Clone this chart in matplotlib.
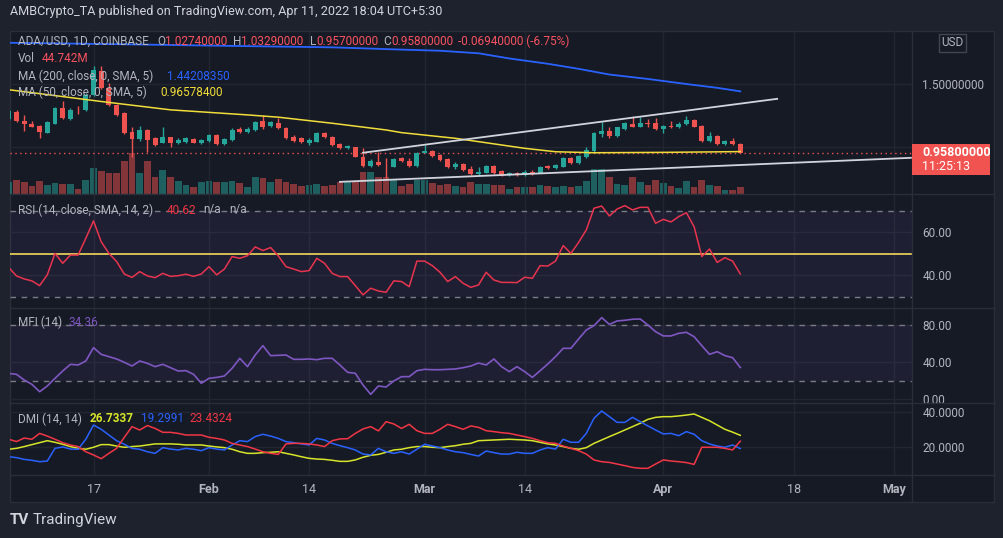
import matplotlib
matplotlib.use('Agg')
import matplotlib.pyplot as plt
import matplotlib.dates as mdates
from matplotlib.lines import Line2D
from matplotlib.patches import Rectangle
from matplotlib.transforms import Bbox
import pandas as pd

plt.rcParams['font.family'] = ['Roboto', 'DejaVu Sans']

# ---------------- data ----------------
dates = pd.date_range('2022-01-06', '2022-04-11', freq='D')

opens = [1.225, 1.278, 1.209, 1.185, 1.169, 1.116, 1.188, 1.309, 1.225, 1.298,
         1.291, 1.415, 1.601, 1.468, 1.336, 1.270, 1.124, 1.063, 1.137, 1.071,
         1.037, 1.079, 1.037, 1.045, 1.063, 1.031,
         1.053, 1.098, 1.026, 1.058, 1.148, 1.124, 1.137, 1.204, 1.169, 1.190,
         1.153, 1.084, 1.071, 1.031, 1.045, 1.111, 1.084, 1.026, 0.992, 1.000,
         0.926, 0.852, 0.886, 0.861, 0.846, 0.912, 0.894, 0.852,
         0.957, 0.971, 0.939, 0.904, 0.841, 0.867, 0.825, 0.788, 0.798, 0.852,
         0.812, 0.780, 0.798, 0.780, 0.804, 0.798, 0.852, 0.833, 0.846, 0.912,
         0.873, 0.920, 0.973, 1.106, 1.132, 1.090, 1.143, 1.185, 1.164, 1.191,
         1.190,
         1.143, 1.169, 1.159, 1.185, 1.217, 1.169, 1.053, 1.090, 1.023, 1.050, 1.0274]
highs = [1.296, 1.296, 1.256, 1.209, 1.177, 1.204, 1.317, 1.368, 1.309, 1.323,
         1.428, 1.640, 1.640, 1.508, 1.344, 1.275, 1.164, 1.169, 1.143, 1.079,
         1.164, 1.084, 1.071, 1.084, 1.071, 1.066,
         1.103, 1.106, 1.071, 1.151, 1.164, 1.159, 1.211, 1.256, 1.204, 1.230,
         1.159, 1.095, 1.079, 1.071, 1.124, 1.121, 1.090, 1.031, 1.018, 1.005,
         0.992, 0.904, 0.965, 0.912, 0.912, 0.926, 0.912, 0.965,
         1.018, 0.979, 0.947, 0.912, 0.886, 0.873, 0.852, 0.846, 0.859, 0.859,
         0.820, 0.806, 0.806, 0.820, 0.820, 0.852, 0.859, 0.867, 0.920, 0.920,
         0.939, 1.000, 1.124, 1.196, 1.164, 1.164, 1.198, 1.248, 1.238, 1.222,
         1.230,
         1.177, 1.204, 1.196, 1.248, 1.222, 1.177, 1.124, 1.095, 1.055, 1.074, 1.0329]
lows = [1.217, 1.196, 1.132, 1.159, 1.076, 1.111, 1.182, 1.222, 1.217, 1.262,
        1.283, 1.402, 1.460, 1.328, 1.248, 1.106, 0.926, 1.053, 0.965, 1.010,
        1.031, 1.005, 1.023, 1.037, 1.031, 1.023,
        1.045, 1.018, 1.018, 1.053, 1.116, 1.111, 1.132, 1.143, 1.159, 1.143,
        1.063, 1.042, 1.031, 1.018, 1.039, 1.071, 1.010, 0.984, 0.984, 0.920,
        0.846, 0.841, 0.852, 0.754, 0.841, 0.886, 0.841, 0.846,
        0.952, 0.926, 0.894, 0.833, 0.825, 0.815, 0.780, 0.780, 0.793, 0.788,
        0.772, 0.775, 0.772, 0.775, 0.785, 0.793, 0.825, 0.825, 0.841, 0.867,
        0.867, 0.912, 0.965, 1.084, 1.071, 1.084, 1.137, 1.159, 1.159, 1.164,
        1.137,
        1.111, 1.151, 1.151, 1.177, 1.159, 1.045, 1.045, 1.018, 1.018, 1.018, 0.957]
closes = [1.283, 1.204, 1.182, 1.164, 1.124, 1.196, 1.309, 1.230, 1.296, 1.294,
          1.415, 1.614, 1.468, 1.336, 1.256, 1.111, 1.063, 1.137, 1.058, 1.018,
          1.084, 1.037, 1.058, 1.071, 1.037, 1.058,
          1.095, 1.023, 1.063, 1.137, 1.124, 1.148, 1.201, 1.164, 1.196, 1.151,
          1.071, 1.050, 1.039, 1.058, 1.116, 1.079, 1.018, 0.992, 1.010, 0.926,
          0.852, 0.891, 0.859, 0.857, 0.904, 0.894, 0.852, 0.957,
          0.971, 0.931, 0.899, 0.841, 0.867, 0.820, 0.788, 0.806, 0.852, 0.798,
          0.780, 0.798, 0.780, 0.806, 0.799, 0.846, 0.833, 0.859, 0.912, 0.873,
          0.931, 0.979, 1.116, 1.132, 1.090, 1.159, 1.190, 1.164, 1.190, 1.188,
          1.143,
          1.169, 1.159, 1.185, 1.217, 1.164, 1.053, 1.090, 1.023, 1.050, 1.027, 0.958]
volume_m = [83, 96, 83, 56, 90, 63, 76, 69, 69, 36, 96, 177, 157, 143, 143, 224,
            276, 139, 220, 112, 161, 112, 90, 60, 49, 78,
            90, 83, 78, 90, 72, 49, 112, 105, 78, 101, 78, 67, 56, 63, 67, 56,
            63, 78, 78, 78, 146, 150, 112, 112, 94, 56, 67, 96,
            96, 74, 63, 67, 56, 45, 83, 67, 67, 63, 63, 36, 45, 49, 49, 63, 56,
            45, 56, 45, 56, 85, 170, 166, 116, 67, 63, 116, 83, 63, 96,
            74, 56, 38, 90, 45, 96, 63, 56, 29, 29, 44.742]

rsi = [43.6, 39.7, 38.3, 37.4, 35.2, 40.2, 50.2, 45.6, 49.4, 49.4, 57.2, 65.3,
       55.6, 50.2, 46.4, 40.6, 39.0, 41.7, 39.7, 38.9, 40.9, 39.5, 39.8, 40.5,
       39.5, 40.6, 44.0, 40.2, 42.9, 48.7, 47.9, 49.1, 53.2, 51.5, 52.9, 49.0,
       44.0, 42.9, 41.7, 42.2, 47.9, 45.6, 40.9, 39.4, 39.4, 35.2, 30.9, 34.0,
       32.7, 32.1, 37.4, 37.1, 34.7, 46.6, 46.6, 44.5, 41.4, 37.1, 39.4, 36.3,
       34.4, 35.5, 41.4, 37.8, 36.7, 36.7, 36.6, 39.1, 38.6, 44.5, 44.3, 46.6,
       53.8, 50.2, 55.3, 61.1, 71.2, 72.2, 67.6, 70.8, 72.4, 70.4, 71.6, 71.6,
       64.2, 66.0, 64.8, 67.3, 69.1, 62.6, 48.7, 52.2, 46.0, 48.2, 46.6, 40.62]

mfi = [28.0, 27.0, 20.9, 16.2, 8.2, 14.4, 22.7, 30.6, 37.8, 37.1, 41.4, 55.8,
       48.6, 46.1, 43.6, 40.0, 36.0, 41.4, 38.9, 35.3, 37.8, 34.2, 30.6, 31.0,
       27.0, 17.3, 22.7, 23.7, 25.2, 33.5, 44.3, 35.3, 47.9, 58.0, 47.2, 47.5,
       47.9, 43.2, 43.2, 43.6, 42.8, 44.3, 44.3, 37.1, 29.2, 28.1, 15.5, 5.4,
       14.4, 13.3, 19.8, 24.5, 24.5, 30.9, 32.4, 32.0, 32.0, 32.4, 32.8, 34.2,
       36.0, 39.2, 37.1, 43.6, 35.3, 29.9, 35.3, 29.9, 23.7, 30.9, 38.2, 46.1,
       55.1, 55.1, 65.2, 74.9, 79.6, 88.3, 81.0, 84.7, 85.4, 86.5, 86.8, 80.3,
       73.1, 68.5, 68.5, 71.3, 72.4, 67.7, 58.0, 48.6, 51.5, 47.2, 45.0, 34.36]

adx = [18.9, 19.4, 20.4, 21.5, 22.6, 23.7, 22.8, 21.7, 20.4, 19.4, 18.9, 20.0,
       21.5, 21.5, 20.7, 20.0, 20.4, 20.7, 21.3, 21.9, 21.9, 21.9, 21.7, 21.3,
       21.3, 21.3, 20.7, 20.2, 19.8, 18.9, 17.5, 16.6, 16.6, 17.0, 17.2, 17.5,
       16.6, 15.7, 14.7, 13.8, 13.4, 13.2, 12.7, 12.1, 12.1, 12.9, 14.4, 15.5,
       16.0, 17.2, 18.5, 18.9, 19.8, 20.4, 20.4, 20.0, 19.8, 20.4, 20.9, 21.7,
       22.2, 23.7, 23.9, 24.1, 24.3, 24.5, 24.3, 24.1, 23.7, 22.8, 21.9, 21.3,
       20.4, 19.4, 18.9, 19.8, 22.2, 24.1, 26.0, 27.8, 29.7, 31.6, 33.5, 35.7,
       36.8, 37.2, 37.2, 37.6, 38.1, 38.7, 36.8, 34.9, 32.5, 30.1, 28.5, 26.73]
plus_di = [14.7, 14.2, 13.2, 12.7, 11.9, 12.3, 19.4, 20.2, 19.0, 18.9, 24.5,
           32.5, 30.1, 26.9, 23.7, 21.7, 19.4, 18.9, 17.5, 16.6, 19.8, 19.0,
           18.5, 19.4, 18.9, 18.1, 19.8, 19.0, 18.5, 21.3, 23.7, 23.2, 26.0,
           27.3, 26.3, 25.0, 23.2, 22.6, 21.9, 21.3, 25.0, 24.1, 22.2, 20.9,
           19.8, 18.5, 16.2, 15.7, 19.4, 17.5, 16.6, 17.5, 16.2, 18.9, 21.7,
           20.7, 19.8, 18.5, 17.5, 17.0, 16.0, 15.1, 17.9, 17.0, 16.2, 16.2,
           17.2, 16.6, 16.6, 18.5, 19.8, 19.0, 24.5, 22.8, 22.8, 27.8, 36.3,
           40.4, 37.2, 34.0, 34.0, 36.8, 34.4, 32.0, 29.7, 27.5, 27.8, 26.5,
           28.8, 27.3, 23.7, 21.9, 20.7, 20.0, 21.3, 19.30]
minus_di = [24.5, 23.2, 25.2, 24.5, 27.8, 26.3, 24.5, 22.6, 21.3, 20.4, 17.5,
            15.7, 13.6, 16.6, 19.4, 25.6, 31.6, 29.7, 32.2, 30.6, 28.4, 28.4,
            27.8, 26.9, 26.9, 26.9, 25.6, 25.0, 24.1, 22.2, 21.3, 20.4, 19.0,
            17.5, 16.6, 16.0, 21.9, 22.2, 22.2, 21.9, 21.3, 20.4, 23.7, 24.7,
            24.8, 27.8, 30.3, 31.6, 29.2, 34.4, 33.1, 30.6, 32.9, 29.3, 27.8,
            27.8, 30.1, 32.9, 31.6, 30.1, 32.0, 31.2, 29.3, 28.8, 28.2, 27.8,
            26.9, 26.0, 25.0, 23.7, 22.6, 22.2, 20.7, 19.4, 18.1, 16.2, 12.9,
            11.9, 11.5, 10.6, 9.7, 8.7, 8.2, 8.2, 10.6, 12.9, 12.3, 11.9, 11.4,
            10.4, 20.0, 20.0, 20.0, 19.4, 18.5, 23.43]

ma200_dates = ['2022-01-06', '2022-01-20', '2022-02-03', '2022-02-17', '2022-02-26',
               '2022-03-03', '2022-03-08', '2022-03-12', '2022-03-17', '2022-03-21',
               '2022-03-25', '2022-03-30', '2022-04-04', '2022-04-08', '2022-04-11']
ma200 = [1.826, 1.815, 1.802, 1.790, 1.772, 1.763, 1.743, 1.702, 1.660, 1.620,
         1.575, 1.540, 1.500, 1.470, 1.442]
ma50_dates = ['2022-01-06', '2022-01-18', '2022-01-27', '2022-02-06', '2022-02-10',
              '2022-02-17', '2022-02-24', '2022-02-26', '2022-03-05', '2022-03-14',
              '2022-03-18', '2022-03-23', '2022-04-01', '2022-04-11']
ma50 = [1.455, 1.362, 1.296, 1.256, 1.238, 1.190, 1.137, 1.116, 1.071, 0.992,
        0.965, 0.957, 0.960, 0.966]

upper_line_dates = ['2022-02-21 00:00', '2022-04-15 19:00']
upper_line_vals = [0.957, 1.383]
lower_line_dates = ['2022-02-18 00:00', '2022-05-03 05:00']
lower_line_vals = [0.727, 0.917]

tick_dates = ['2022-01-17', '2022-02-01', '2022-02-14', '2022-03-01',
              '2022-03-14', '2022-04-01', '2022-04-18', '2022-05-01']
tick_labels = ['17', 'Feb', '14', 'Mar', '14', 'Apr', '18', 'May']
last_close = 0.958

# ---------------- style ----------------
BG = '#161a25'
OUTER = '#1e222d'
BORDER = '#2a2e39'
GRID = '#222631'
TXT = '#b2b5be'
UP = '#26a69a'
DOWN = '#ef5350'

W, H = 1004, 538
fig = plt.figure(figsize=(W / 100, H / 100), dpi=100)
fig.patch.set_facecolor(OUTER)
fig.add_artist(Rectangle((10 / W, 1 - 502 / H), 984 / W, 471 / H, transform=fig.transFigure,
                         facecolor=BG, edgecolor=BORDER, lw=1, zorder=-5))

x = mdates.date2num(dates)
feb1 = mdates.date2num(pd.Timestamp('2022-02-01'))
xmin, xmax = feb1 - 199 / 7.7, feb1 + 703 / 7.7
tick_x = mdates.date2num(pd.to_datetime(tick_dates))


def dnum(lst):
    return mdates.date2num(pd.to_datetime(lst, format='mixed'))


def rect(top, bottom):
    return [10 / W, 1 - bottom / H, 902 / W, (bottom - top) / H]


def style(ax, ticks, fmt, ylim):
    ax.set_facecolor('none')
    for s in ax.spines.values():
        s.set_visible(False)
    ax.set_xlim(xmin, xmax)
    ax.set_ylim(*ylim)
    ax.yaxis.tick_right()
    ax.set_yticks(ticks)
    ax.set_yticklabels([fmt.format(t) for t in ticks])
    ax.tick_params(axis='y', length=0, pad=7.5, labelsize=8.5, labelcolor=TXT)
    ax.set_xticks(tick_x)
    ax.tick_params(axis='x', length=0, labelbottom=False)
    ax.grid(True, color=GRID, lw=1)
    ax.set_axisbelow(True)


# ---- main pane: volume + candles ----
ax_v = fig.add_axes(rect(31, 194))
ax_v.set_facecolor('none')
ax_v.axis('off')
ax_v.set_xlim(xmin, xmax)
ax_v.set_ylim(0, 1095)
up = [c >= o for o, c in zip(opens, closes)]
vcol = [UP if u else DOWN for u in up]
ax_v.bar(x, volume_m, width=0.86, color=vcol, alpha=0.5, linewidth=0)

ax_p = fig.add_axes(rect(31, 194))
style(ax_p, [1.5, 1.0], '{:.8f}', (0.631, 1.919))
ccol = [UP if u else DOWN for u in up]
ax_p.vlines(x, lows, highs, colors=ccol, lw=1, zorder=3)
body_lo = [min(o, c) for o, c in zip(opens, closes)]
body_h = [max(abs(c - o), 0.003) for o, c in zip(opens, closes)]
ax_p.bar(x, body_h, bottom=body_lo, width=0.64, color=ccol, linewidth=0, zorder=4)

ax_p.plot(dnum(ma200_dates), ma200, color='#2962ff', lw=1.3, zorder=5)
ax_p.plot(dnum(ma50_dates), ma50, color='#f1dd3a', lw=1.1, zorder=5)
ax_p.plot(dnum(upper_line_dates), upper_line_vals, color='#d1d4dc', lw=1.3, zorder=6)
ax_p.plot(dnum(lower_line_dates), lower_line_vals, color='#d1d4dc', lw=1.3, zorder=6)
ax_p.axhline(last_close, color=DOWN, lw=1, ls=(0, (1, 2.5)), zorder=2)

# the 1.00000000 label sits behind the last-price tag: show only the sliver above it
lab_one = ax_p.get_yticklabels()[1]
lab_one.set_clip_box(Bbox.from_extents(900, H - 143.3, W, H - 130))
lab_one.set_clip_on(True)

# ---- RSI ----
ax_r = fig.add_axes(rect(194, 307.7))
style(ax_r, [60, 40], '{:.2f}', (24.93, 77.8))
ax_r.axhspan(30, 70, color='#7e57c2', alpha=0.09, lw=0)
for lvl in (70, 30):
    ax_r.axhline(lvl, color='#787b86', lw=1, ls=(0, (4, 4)))
ax_r.axhline(50, color='#f2d95c', lw=1.2)
ax_r.plot(x, rsi, color='#e8344e', lw=1.1)

# ---- MFI ----
ax_m = fig.add_axes(rect(307.7, 403.3))
style(ax_m, [80, 40, 0], '{:.2f}', (-4.3, 99.0))
ax_m.axhspan(20, 80, color='#7e57c2', alpha=0.09, lw=0)
for lvl in (80, 20):
    ax_m.axhline(lvl, color='#787b86', lw=1, ls=(0, (4, 4)))
ax_m.plot(x, mfi, color='#7e57c2', lw=1.2)

# ---- DMI ----
ax_d = fig.add_axes(rect(403.3, 475))
style(ax_d, [40, 20], '{:.4f}', (4.44, 44.7))
ax_d.plot(x, adx, color='#d7e52a', lw=1.1)
ax_d.plot(x, plus_di, color='#2962ff', lw=1.1)
ax_d.plot(x, minus_di, color='#f23645', lw=1.1)
ax_d.tick_params(axis='x', labelbottom=True, pad=6, labelsize=9, labelcolor=TXT)
ax_d.set_xticklabels(tick_labels)
for lab in ax_d.get_xticklabels():
    if lab.get_text().isalpha():
        lab.set_fontweight('bold')

# ---- separators ----
for yy in (194, 307.7, 403.3, 475):
    fig.add_artist(Line2D([10 / W, 994 / W], [1 - yy / H] * 2, color=BORDER, lw=1))
fig.add_artist(Line2D([912 / W] * 2, [1 - 31 / H, 1 - 502 / H], color=BORDER, lw=1))


# ---- texts ----
def t(px, py, s, color=TXT, size=8.5, weight='normal', ha='left', z=12):
    fig.text(px / W, 1 - py / H, s, color=color, fontsize=size, fontweight=weight,
             ha=ha, va='center', zorder=z)


t(10, 12, 'AMBCrypto_TA published on TradingView.com, Apr 11, 2022 18:04 UTC+5:30',
  color='#d1d4dc', size=9.1)

RED = '#f7525f'
t(18, 41.5, 'ADA/USD, 1D, COINBASE')
t(157, 41.5, 'O')
t(165, 41.5, '1.02740000', RED)
t(233, 41.5, 'H')
t(241, 41.5, '1.03290000', RED)
t(310, 41.5, 'L')
t(316, 41.5, '0.95700000', RED)
t(383, 41.5, 'C')
t(391, 41.5, '0.95800000', RED)
t(458, 41.5, '-0.06940000 (-6.75%)', RED)
t(18, 59, 'Vol')
t(42, 59, '44.742M', RED)
t(18, 76, 'MA (200, close, 0, SMA, 5)')
t(167, 76, '1.44208350', '#2962ff')
t(18, 92.5, 'MA (50, close, 0, SMA, 5)')
t(160, 92.5, '0.96578400', '#f1dd3a')

t(18, 210, 'RSI (14, close, SMA, 14, 2)')
t(167, 210, '40.62', '#f23645')
t(203, 210, 'n/a')
t(229, 210, 'n/a')

t(18, 322.5, 'MFI (14)')
t(69, 322.5, '34.36', '#7e57c2')

t(18, 419, 'DMI (14, 14)')
t(90, 419, '26.7337', '#d7e52a', weight='bold')
t(141, 419, '19.2991', '#2962ff')
t(189, 419, '23.4324', '#f23645')

# USD box
fig.add_artist(Rectangle((939 / W, 1 - 52 / H), 27 / W, 18 / H, transform=fig.transFigure,
                         facecolor=BG, edgecolor='#434651', lw=1, zorder=10))
t(952.5, 43, 'USD', ha='center')

# last price tag
fig.add_artist(Rectangle((912 / W, 1 - 175 / H), 78 / W, 31.5 / H, transform=fig.transFigure,
                         facecolor='#f05350', edgecolor='none', zorder=10))
t(922, 152.8, '0.95800000', 'white', size=9, weight='bold')
t(922, 166.5, '11:25:13', 'white', size=9)

# footer logo
t(10, 520, 'TV', '#d1d4dc', size=11, weight='bold')
t(33, 520, 'TradingView', '#d1d4dc', size=11)

fig.savefig('out.png', dpi=100, facecolor=fig.get_facecolor())
